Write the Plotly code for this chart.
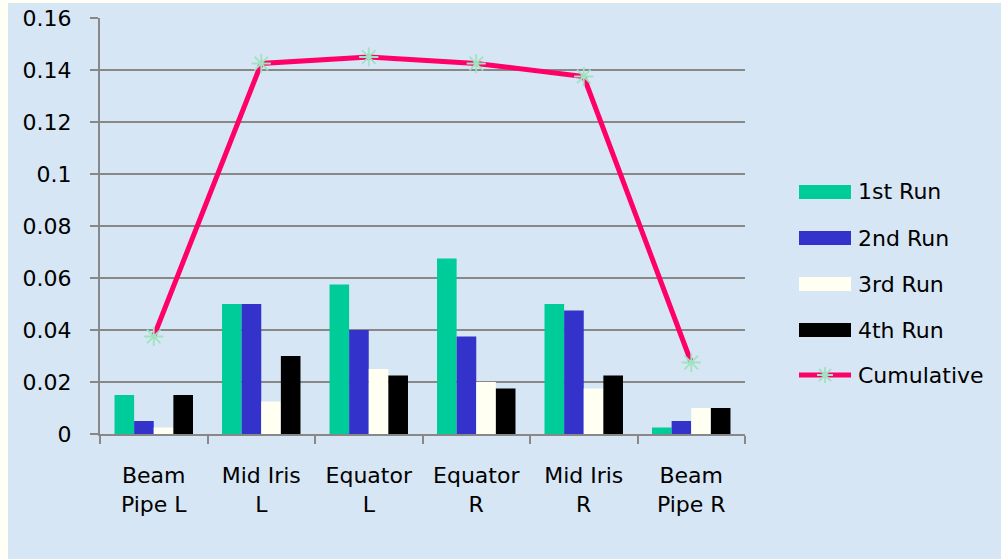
import plotly.graph_objects as go

categories = ["Beam<br>Pipe L", "Mid Iris<br>L", "Equator<br>L", "Equator<br>R", "Mid Iris<br>R", "Beam<br>Pipe R"]
run1 = [0.015, 0.050, 0.0575, 0.0675, 0.050, 0.0025]
run2 = [0.005, 0.050, 0.040, 0.0375, 0.0475, 0.005]
run3 = [0.0025, 0.0125, 0.025, 0.020, 0.0175, 0.010]
run4 = [0.015, 0.030, 0.0225, 0.0175, 0.0225, 0.010]
cumulative = [0.0375, 0.1425, 0.145, 0.1425, 0.1375, 0.0275]
series_names = ["1st Run", "2nd Run", "3rd Run", "4th Run", "Cumulative"]
y_tickvals = [0, 0.02, 0.04, 0.06, 0.08, 0.10, 0.12, 0.14, 0.16]
y_ticktext = ["0", "0.02", "0.04", "0.06", "0.08", "0.1", "0.12", "0.14", "0.16"]

bar_colors = ["#00cc99", "#3333cc", "#fffff2", "#000000"]
line_color = "#ff0066"
marker_color = "#9fe3c0"
FONT = "DejaVu Sans"
FS = 22

W, H = 1001, 559
ML, MR, MT, MB = 100, 256, 18, 125
PW, PH = W - ML - MR, H - MT - MB


def px(x):
    return (x - ML) / PW


def py(y):
    return (H - MB - y) / PH


fig = go.Figure()
for name, vals, col in zip(series_names[:4], [run1, run2, run3, run4], bar_colors):
    fig.add_trace(go.Bar(x=categories, y=vals, name=name, marker=dict(color=col, line=dict(width=0)),
                         showlegend=False))
fig.add_trace(go.Scatter(x=categories, y=cumulative, name=series_names[4], mode="lines+markers",
                         line=dict(color=line_color, width=5),
                         marker=dict(symbol="asterisk-open", size=16, color=marker_color,
                                     line=dict(color=marker_color, width=1.8)),
                         showlegend=False))

shapes = [
    dict(type="rect", xref="paper", yref="paper", x0=px(8), x1=px(W + 5), y0=py(H + 5), y1=py(3),
         fillcolor="#d7e6f5", line=dict(width=0), layer="below"),
]
annotations = []
rows = [192, 238, 284, 330, 375]
for i, (name, ry) in enumerate(zip(series_names, rows)):
    if i < 4:
        shapes.append(dict(type="rect", xref="paper", yref="paper", x0=px(799), x1=px(851),
                           y0=py(ry + 7), y1=py(ry - 7), fillcolor=bar_colors[i], line=dict(width=0)))
    else:
        shapes.append(dict(type="line", xref="paper", yref="paper", x0=px(799), x1=px(851),
                           y0=py(ry), y1=py(ry), line=dict(color=line_color, width=5)))
        cx, cy, a, d = 825, ry, 8, 6
        path = (f"M{px(cx - a)},{py(cy)} L{px(cx + a)},{py(cy)} "
                f"M{px(cx)},{py(cy - a)} L{px(cx)},{py(cy + a)} "
                f"M{px(cx - d)},{py(cy - d)} L{px(cx + d)},{py(cy + d)} "
                f"M{px(cx - d)},{py(cy + d)} L{px(cx + d)},{py(cy - d)}")
        shapes.append(dict(type="path", xref="paper", yref="paper", path=path,
                           line=dict(color=marker_color, width=1.8)))
    annotations.append(dict(x=px(856), y=py(ry), xref="paper", yref="paper", text=name,
                            showarrow=False, xanchor="left", yanchor="middle",
                            font=dict(family=FONT, size=FS, color="#000000")))

fig.update_layout(
    width=W, height=H,
    margin=dict(l=ML, r=MR, t=MT, b=MB, pad=0, autoexpand=False),
    paper_bgcolor="#fffff5",
    plot_bgcolor="rgba(0,0,0,0)",
    barmode="group", bargap=0.27, bargroupgap=0,
    font=dict(family=FONT, size=FS, color="#000000"),
    shapes=shapes, annotations=annotations,
    showlegend=False,
)
fig.update_xaxes(automargin=False, showgrid=False, showline=True, linecolor="#888888", linewidth=2,
                 ticks="outside", tickson="boundaries", ticklen=8, tickcolor="#888888", tickwidth=2,
                 ticklabelstandoff=21, tickfont=dict(family=FONT, size=FS))
fig.update_yaxes(automargin=False, range=[0, 0.16], tickvals=y_tickvals, ticktext=y_ticktext,
                 showgrid=True, gridcolor="#888888", gridwidth=2, zeroline=False,
                 showline=True, linecolor="#888888", linewidth=2,
                 ticks="outside", ticklen=8, tickcolor="#888888", tickwidth=2,
                 ticklabelstandoff=14, tickfont=dict(family=FONT, size=FS))

fig.write_html("out.html")
